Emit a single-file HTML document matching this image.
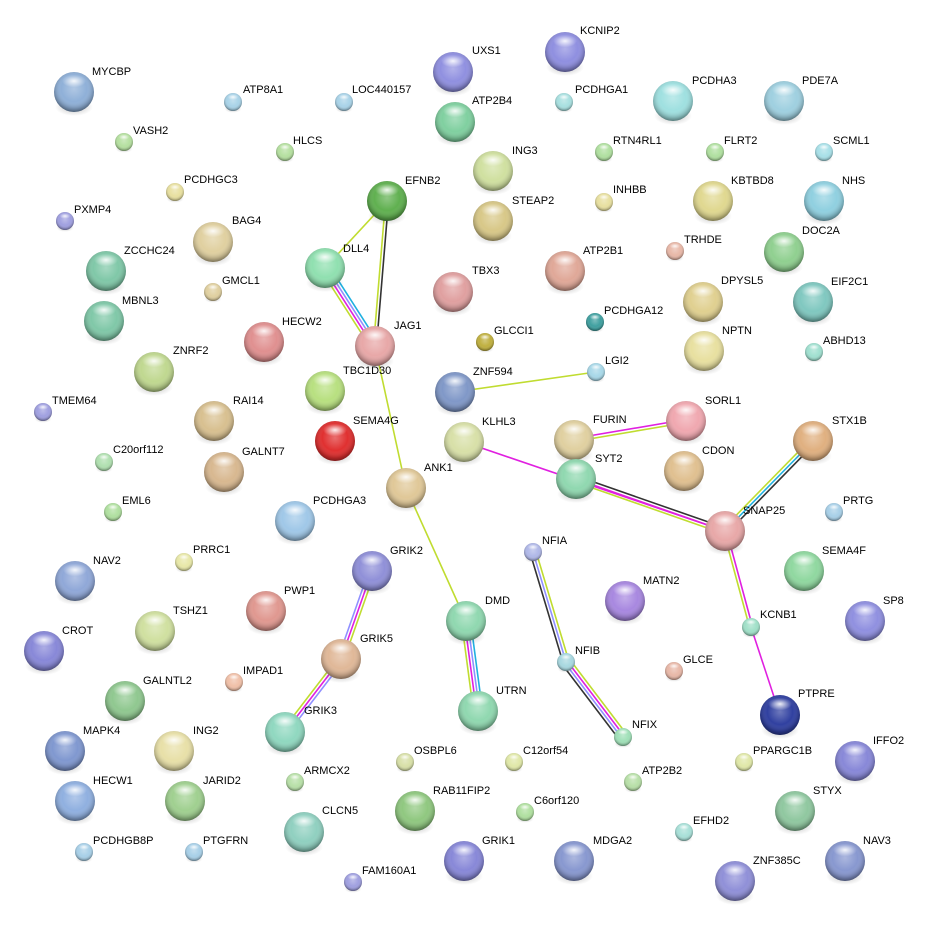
<!DOCTYPE html>
<html><head><meta charset="utf-8"><style>
html,body{margin:0;padding:0;background:#fff;}
svg text{font-family:"Liberation Sans",sans-serif;font-size:11px;fill:#000;}
</style></head><body>
<svg id="s" width="935" height="927" viewBox="0 0 935 927" xmlns="http://www.w3.org/2000/svg">
<defs>
<radialGradient id="g" cx="50%" cy="42%" r="58%">
<stop offset="0" stop-color="#fff" stop-opacity="0.3"/>
<stop offset="0.55" stop-color="#fff" stop-opacity="0"/>
<stop offset="0.85" stop-color="#000" stop-opacity="0.2"/>
<stop offset="1" stop-color="#000" stop-opacity="0.45"/>
</radialGradient>
<radialGradient id="h" cx="50%" cy="50%" r="50%">
<stop offset="0" stop-color="#fff" stop-opacity="0.9"/>
<stop offset="1" stop-color="#fff" stop-opacity="0"/>
</radialGradient>
<radialGradient id="sh" cx="50%" cy="50%" r="50%">
<stop offset="0" stop-color="#000" stop-opacity="0.25"/>
<stop offset="1" stop-color="#000" stop-opacity="0"/>
</radialGradient>
</defs>
<g id="edges"></g>
<g id="nodes">
<circle cx="74" cy="92" r="20" fill="#8fb0d8"/><text x="92" y="75">MYCBP</text>
<circle cx="233" cy="102" r="9" fill="#a9d3e8"/><text x="243" y="93">ATP8A1</text>
<circle cx="344" cy="102" r="9" fill="#a9d3e8"/><text x="352" y="93">LOC440157</text>
<circle cx="453" cy="72" r="20" fill="#9090e0"/><text x="472" y="54">UXS1</text>
<circle cx="565" cy="52" r="20" fill="#8f8fe0"/><text x="580" y="34">KCNIP2</text>
<circle cx="564" cy="102" r="9" fill="#a8e0e0"/><text x="575" y="93">PCDHGA1</text>
<circle cx="673" cy="101" r="20" fill="#9fe0e0"/><text x="692" y="84">PCDHA3</text>
<circle cx="784" cy="101" r="20" fill="#9fd0e0"/><text x="802" y="84">PDE7A</text>
<circle cx="124" cy="142" r="9" fill="#b5e0a0"/><text x="133" y="134">VASH2</text>
<circle cx="285" cy="152" r="9" fill="#b5e0a0"/><text x="293" y="144">HLCS</text>
<circle cx="455" cy="122" r="20" fill="#80d0a0"/><text x="472" y="104">ATP2B4</text>
<circle cx="604" cy="152" r="9" fill="#b0e0a0"/><text x="613" y="144">RTN4RL1</text>
<circle cx="715" cy="152" r="9" fill="#b0e0a0"/><text x="724" y="144">FLRT2</text>
<circle cx="824" cy="152" r="9" fill="#a8e0e8"/><text x="833" y="144">SCML1</text>
<circle cx="493" cy="171" r="20" fill="#d0e0a0"/><text x="512" y="154">ING3</text>
<circle cx="604" cy="202" r="9" fill="#e8e0a0"/><text x="613" y="193">INHBB</text>
<circle cx="713" cy="201" r="20" fill="#e0d890"/><text x="731" y="184">KBTBD8</text>
<circle cx="824" cy="201" r="20" fill="#90d0e0"/><text x="842" y="184">NHS</text>
<circle cx="175" cy="192" r="9" fill="#e8e0a0"/><text x="184" y="183">PCDHGC3</text>
<circle cx="65" cy="221" r="9" fill="#a0a0e0"/><text x="74" y="213">PXMP4</text>
<circle cx="387" cy="201" r="20" fill="#60b050"/><text x="405" y="184">EFNB2</text>
<circle cx="493" cy="221" r="20" fill="#d8c888"/><text x="512" y="204">STEAP2</text>
<circle cx="213" cy="242" r="20" fill="#e0d0a0"/><text x="232" y="224">BAG4</text>
<circle cx="325" cy="268" r="20" fill="#90e0b0"/><text x="343" y="252">DLL4</text>
<circle cx="565" cy="271" r="20" fill="#e0a898"/><text x="583" y="254">ATP2B1</text>
<circle cx="675" cy="251" r="9" fill="#e8b8a8"/><text x="684" y="243">TRHDE</text>
<circle cx="784" cy="252" r="20" fill="#90d090"/><text x="802" y="234">DOC2A</text>
<circle cx="106" cy="271" r="20" fill="#80c8a8"/><text x="124" y="254">ZCCHC24</text>
<circle cx="213" cy="292" r="9" fill="#e0d0a0"/><text x="222" y="284">GMCL1</text>
<circle cx="453" cy="292" r="20" fill="#e0a0a0"/><text x="472" y="274">TBX3</text>
<circle cx="703" cy="302" r="20" fill="#e0d090"/><text x="721" y="284">DPYSL5</text>
<circle cx="813" cy="302" r="20" fill="#80c8c0"/><text x="831" y="285">EIF2C1</text>
<circle cx="104" cy="321" r="20" fill="#80c8a8"/><text x="122" y="304">MBNL3</text>
<circle cx="264" cy="342" r="20" fill="#e09090"/><text x="282" y="325">HECW2</text>
<circle cx="375" cy="346" r="20" fill="#e8a8a8"/><text x="394" y="329">JAG1</text>
<circle cx="485" cy="342" r="9" fill="#c0b040"/><text x="494" y="334">GLCCI1</text>
<circle cx="595" cy="322" r="9" fill="#40a0a0"/><text x="604" y="314">PCDHGA12</text>
<circle cx="704" cy="351" r="20" fill="#e8e0a0"/><text x="722" y="334">NPTN</text>
<circle cx="814" cy="352" r="9" fill="#a0e0d0"/><text x="823" y="344">ABHD13</text>
<circle cx="154" cy="372" r="20" fill="#c0d890"/><text x="173" y="354">ZNRF2</text>
<circle cx="325" cy="391" r="20" fill="#b8e080"/><text x="343" y="374">TBC1D30</text>
<circle cx="455" cy="392" r="20" fill="#8098c8"/><text x="473" y="375">ZNF594</text>
<circle cx="596" cy="372" r="9" fill="#a8d8e8"/><text x="605" y="364">LGI2</text>
<circle cx="43" cy="412" r="9" fill="#a0a0e0"/><text x="52" y="404">TMEM64</text>
<circle cx="214" cy="421" r="20" fill="#d8c090"/><text x="233" y="404">RAI14</text>
<circle cx="335" cy="441" r="20" fill="#e03030"/><text x="353" y="424">SEMA4G</text>
<circle cx="464" cy="442" r="20" fill="#d8e0a8"/><text x="482" y="425">KLHL3</text>
<circle cx="574" cy="440" r="20" fill="#e0d0a0"/><text x="593" y="423">FURIN</text>
<circle cx="686" cy="421" r="20" fill="#f0a8b0"/><text x="705" y="404">SORL1</text>
<circle cx="813" cy="441" r="20" fill="#e0b080"/><text x="832" y="424">STX1B</text>
<circle cx="104" cy="462" r="9" fill="#b0e0b0"/><text x="113" y="453">C20orf112</text>
<circle cx="224" cy="472" r="20" fill="#d8b890"/><text x="242" y="455">GALNT7</text>
<circle cx="406" cy="488" r="20" fill="#e0c898"/><text x="424" y="471">ANK1</text>
<circle cx="576" cy="479" r="20" fill="#90d8b0"/><text x="595" y="462">SYT2</text>
<circle cx="684" cy="471" r="20" fill="#e0c090"/><text x="702" y="454">CDON</text>
<circle cx="113" cy="512" r="9" fill="#b0e0a0"/><text x="122" y="504">EML6</text>
<circle cx="295" cy="521" r="20" fill="#a0c8e8"/><text x="313" y="504">PCDHGA3</text>
<circle cx="725" cy="531" r="20" fill="#e8a8a8"/><text x="743" y="514">SNAP25</text>
<circle cx="834" cy="512" r="9" fill="#a8d0e8"/><text x="843" y="504">PRTG</text>
<circle cx="533" cy="552" r="9" fill="#b0b8e8"/><text x="542" y="544">NFIA</text>
<circle cx="184" cy="562" r="9" fill="#e8e8a8"/><text x="193" y="553">PRRC1</text>
<circle cx="75" cy="581" r="20" fill="#90a8d8"/><text x="93" y="564">NAV2</text>
<circle cx="372" cy="571" r="20" fill="#9090d8"/><text x="390" y="554">GRIK2</text>
<circle cx="804" cy="571" r="20" fill="#90d8a0"/><text x="822" y="554">SEMA4F</text>
<circle cx="625" cy="601" r="20" fill="#a888e0"/><text x="643" y="584">MATN2</text>
<circle cx="865" cy="621" r="20" fill="#9090e0"/><text x="883" y="604">SP8</text>
<circle cx="266" cy="611" r="20" fill="#e09890"/><text x="284" y="594">PWP1</text>
<circle cx="466" cy="621" r="20" fill="#90d8b0"/><text x="485" y="604">DMD</text>
<circle cx="155" cy="631" r="20" fill="#d0e0a0"/><text x="173" y="614">TSHZ1</text>
<circle cx="751" cy="627" r="9" fill="#a0e0c8"/><text x="760" y="618">KCNB1</text>
<circle cx="44" cy="651" r="20" fill="#8888d8"/><text x="62" y="634">CROT</text>
<circle cx="341" cy="659" r="20" fill="#e0b898"/><text x="360" y="642">GRIK5</text>
<circle cx="566" cy="662" r="9" fill="#a8d8e0"/><text x="575" y="654">NFIB</text>
<circle cx="674" cy="671" r="9" fill="#e8b8a8"/><text x="683" y="663">GLCE</text>
<circle cx="234" cy="682" r="9" fill="#f0c0a8"/><text x="243" y="674">IMPAD1</text>
<circle cx="125" cy="701" r="20" fill="#90c890"/><text x="143" y="684">GALNTL2</text>
<circle cx="780" cy="715" r="20" fill="#3040a0"/><text x="798" y="697">PTPRE</text>
<circle cx="478" cy="711" r="20" fill="#90d8b0"/><text x="496" y="694">UTRN</text>
<circle cx="285" cy="732" r="20" fill="#90d8c0"/><text x="304" y="714">GRIK3</text>
<circle cx="623" cy="737" r="9" fill="#a0e0b8"/><text x="632" y="728">NFIX</text>
<circle cx="65" cy="751" r="20" fill="#8098d0"/><text x="83" y="734">MAPK4</text>
<circle cx="174" cy="751" r="20" fill="#e8e0a8"/><text x="193" y="734">ING2</text>
<circle cx="855" cy="761" r="20" fill="#8888d8"/><text x="873" y="744">IFFO2</text>
<circle cx="405" cy="762" r="9" fill="#d8e0a8"/><text x="414" y="754">OSBPL6</text>
<circle cx="514" cy="762" r="9" fill="#e0e8a8"/><text x="523" y="754">C12orf54</text>
<circle cx="744" cy="762" r="9" fill="#e0e8a8"/><text x="753" y="754">PPARGC1B</text>
<circle cx="295" cy="782" r="9" fill="#b8e0a8"/><text x="304" y="774">ARMCX2</text>
<circle cx="633" cy="782" r="9" fill="#b8e0a8"/><text x="642" y="774">ATP2B2</text>
<circle cx="185" cy="801" r="20" fill="#a0d090"/><text x="203" y="784">JARID2</text>
<circle cx="75" cy="801" r="20" fill="#90b0e0"/><text x="93" y="784">HECW1</text>
<circle cx="415" cy="811" r="20" fill="#90c880"/><text x="433" y="794">RAB11FIP2</text>
<circle cx="525" cy="812" r="9" fill="#b0e0a0"/><text x="534" y="804">C6orf120</text>
<circle cx="795" cy="811" r="20" fill="#90c8a0"/><text x="813" y="794">STYX</text>
<circle cx="684" cy="832" r="9" fill="#a8e0d8"/><text x="693" y="824">EFHD2</text>
<circle cx="304" cy="832" r="20" fill="#90d0c0"/><text x="322" y="814">CLCN5</text>
<circle cx="84" cy="852" r="9" fill="#a8d0e8"/><text x="93" y="844">PCDHGB8P</text>
<circle cx="194" cy="852" r="9" fill="#a8d0e8"/><text x="203" y="844">PTGFRN</text>
<circle cx="464" cy="861" r="20" fill="#8888d8"/><text x="482" y="844">GRIK1</text>
<circle cx="574" cy="861" r="20" fill="#8898d0"/><text x="593" y="844">MDGA2</text>
<circle cx="845" cy="861" r="20" fill="#8898d0"/><text x="863" y="844">NAV3</text>
<circle cx="735" cy="881" r="20" fill="#9090d8"/><text x="753" y="864">ZNF385C</text>
<circle cx="353" cy="882" r="9" fill="#a0a0e0"/><text x="362" y="874">FAM160A1</text>
</g>
</svg>
<script>
(function(){
var NS="http://www.w3.org/2000/svg";
var nodes=document.getElementById('nodes');
var cs=[].slice.call(nodes.querySelectorAll('circle'));
cs.forEach(function(c){
 var x=+c.getAttribute('cx'),y=+c.getAttribute('cy'),r=+c.getAttribute('r');
 var s=document.createElementNS(NS,'ellipse');
 s.setAttribute('cx',x);s.setAttribute('cy',y+r*0.75);s.setAttribute('rx',r*0.95);s.setAttribute('ry',r*0.45);
 s.setAttribute('fill','url(#sh)');
 c.parentNode.insertBefore(s,c);
 var o=document.createElementNS(NS,'circle');
 o.setAttribute('cx',x);o.setAttribute('cy',y);o.setAttribute('r',r);
 o.setAttribute('fill','url(#g)');
 c.parentNode.insertBefore(o,c.nextSibling);
 var h=document.createElementNS(NS,'ellipse');
 h.setAttribute('cx',x);h.setAttribute('cy',y-r*0.55);h.setAttribute('rx',r*0.6);h.setAttribute('ry',r*0.32);
 h.setAttribute('fill','url(#h)');
 o.parentNode.insertBefore(h,o.nextSibling);
});
var E=document.getElementById('edges');
var K='#333',Y='#c0dc30',M='#e020e0',C='#20b0e0',P='#9090ff';
function e(x1,y1,x2,y2,cols){
 var dx=x2-x1,dy=y2-y1,L=Math.sqrt(dx*dx+dy*dy),nx=-dy/L,ny=dx/L,n=cols.length;
 cols.forEach(function(col,i){
  var o=(i-(n-1)/2)*3;
  var l=document.createElementNS(NS,'line');
  l.setAttribute('x1',x1+nx*o);l.setAttribute('y1',y1+ny*o);
  l.setAttribute('x2',x2+nx*o);l.setAttribute('y2',y2+ny*o);
  l.setAttribute('stroke',col);l.setAttribute('stroke-width',1.6);
  E.appendChild(l);
 });
}
e(387,201,325,268,[Y]);
e(387,201,375,346,[K,Y]);
e(325,268,375,346,[C,P,M,Y]);
e(375,346,406,488,[Y]);
e(406,488,466,621,[Y]);
e(455,392,596,372,[Y]);
e(574,440,686,421,[M,Y]);
e(464,442,725,531,[M]);
e(576,479,725,531,[K,M,Y]);
e(813,441,725,531,[K,C,Y]);
e(725,531,751,627,[M,Y]);
e(751,627,780,715,[M]);
e(372,571,341,659,[Y,M,P]);
e(341,659,285,732,[P,M,Y]);
e(466,621,478,711,[C,P,M,Y]);
e(533,552,566,662,[Y,P,K]);
e(566,662,623,737,[Y,M,P,K]);
})();
</script>
</body></html>
